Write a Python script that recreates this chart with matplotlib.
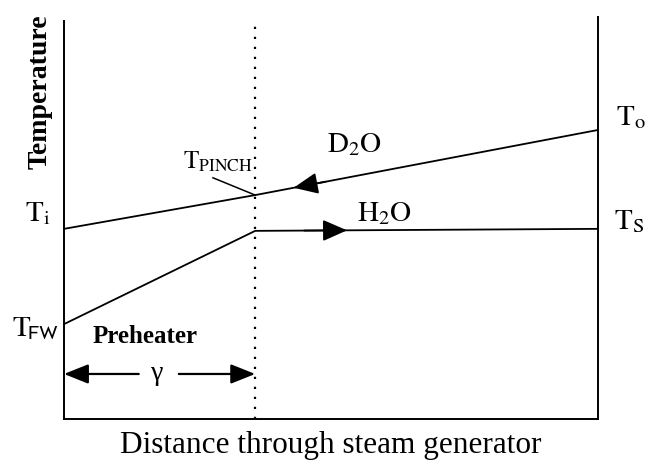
import numpy as np
import matplotlib
matplotlib.use("Agg")
import matplotlib.pyplot as plt

plt.rcParams['font.family'] = ['Liberation Serif', 'DejaVu Serif']
plt.rcParams['mathtext.fontset'] = 'stix'

# distance through the generator (0 = feedwater end, 1 = outlet end)
pinch_x = 0.358
d2o_x = [0.0, pinch_x, 1.0]
d2o_t = [0.473, 0.557, 0.719]     # Ti -> T_PINCH -> To
h2o_x = [0.0, pinch_x, 1.0]
h2o_t = [0.236, 0.468, 0.473]     # T_FW -> saturation -> Ts

fig = plt.figure(figsize=(6.48, 4.63), dpi=100)
ax = fig.add_axes([64/648, 44/463, 534/648, 402/463])
ax.set_xlim(0, 1)
ax.set_ylim(0, 1)

ax.plot(d2o_x, d2o_t, color='black', lw=1.3)
ax.plot(h2o_x, h2o_t, color='black', lw=1.3)
ax.axvline(pinch_x, ymin=0, ymax=0.98, color='black', ls=(0, (1, 3.5)), lw=1.6)

ax.spines['top'].set_visible(False)
for s in ['left', 'right', 'bottom']:
    ax.spines[s].set_linewidth(1.4)
ax.spines['left'].set_bounds(0, 0.99)
ax.spines['right'].set_bounds(0, 1.0)
ax.set_xticks([])
ax.set_yticks([])

# flow direction arrowheads
def head(xs, ys, x_tail, x_tip):
    yt = np.interp(x_tail, xs, ys)
    yh = np.interp(x_tip, xs, ys)
    ax.annotate('', xy=(x_tip, yh), xytext=(x_tail, yt),
                arrowprops=dict(arrowstyle='-|>,head_length=0.5,head_width=0.22',
                                color='black', lw=1.3,
                                mutation_scale=30, shrinkA=0, shrinkB=0))

head(d2o_x, d2o_t, 0.49, 0.43)
head(h2o_x, h2o_t, 0.45, 0.53)

# preheater length arrow
for x0, x1 in [(0.14, 0.0), (0.215, pinch_x)]:
    ax.annotate('', xy=(x1, 0.112), xytext=(x0, 0.112),
                arrowprops=dict(arrowstyle='-|>,head_length=0.5,head_width=0.2',
                                color='black', lw=1.6,
                                mutation_scale=30, shrinkA=0, shrinkB=0))
ax.text(0.174, 0.112, 'γ', fontsize=20, ha='center', va='center')

# pinch pointer
ax.plot([0.279, pinch_x], [0.600, 0.557], color='black', lw=1.1)

fs = 21
ax.text(-0.05, 0.51, r'$\mathrm{T_i}$', fontsize=fs, ha='center', va='center', clip_on=False)
ax.text(-0.054, 0.225, r'$\mathrm{T_{\!\mathsf{FW}}}$', fontsize=fs, ha='center', va='center', clip_on=False)
ax.text(0.152, 0.206, 'Preheater', fontsize=18, fontweight='bold', ha='center', va='center')
ax.text(0.288, 0.64, r'$\mathrm{T_{PINCH}}$', fontsize=18, ha='center', va='center')
ax.text(0.545, 0.682, r'$\mathrm{D_2O}$', fontsize=fs, ha='center', va='center')
ax.text(0.601, 0.512, r'$\mathrm{H_2O}$', fontsize=fs, ha='center', va='center')
ax.text(1.062, 0.749, r'$\mathrm{T_o}$', fontsize=fs, ha='center', va='center', clip_on=False)
ax.text(1.058, 0.49, r'$\mathrm{T_S}$', fontsize=fs, ha='center', va='center', clip_on=False)

ax.set_ylabel('Temperature', fontsize=20, fontweight='bold')
ax.yaxis.set_label_coords(-0.022, 0.815)
ax.set_xlabel('Distance through steam generator', fontsize=22.5, labelpad=9)

fig.savefig('out.png', dpi=100)
